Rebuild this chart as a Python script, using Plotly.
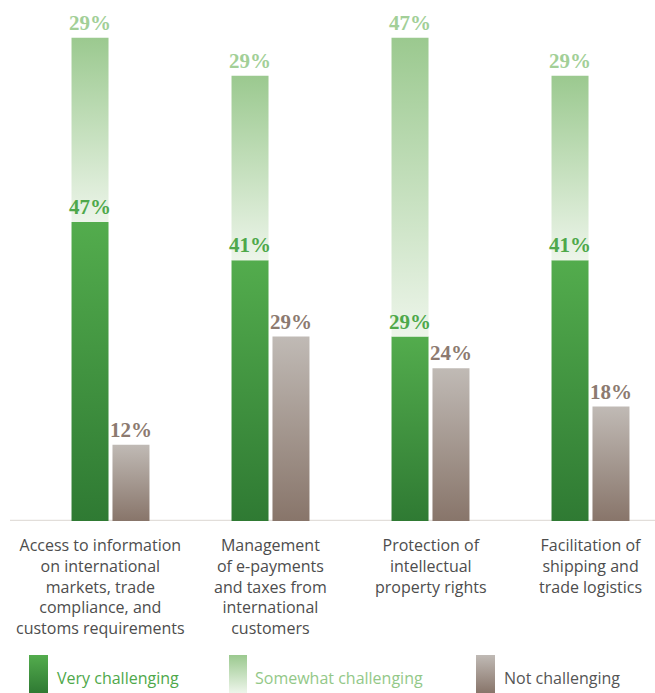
import plotly.graph_objects as go

categories = [
    "Access to information<br>on international<br>markets, trade<br>compliance, and<br>customs requirements",
    "Management<br>of e-payments<br>and taxes from<br>international<br>customers",
    "Protection of<br>intellectual<br>property rights",
    "Facilitation of<br>shipping and<br>trade logistics",
]
very_challenging = [47, 41, 29, 41]
somewhat_challenging = [29, 29, 47, 29]
not_challenging = [12, 29, 24, 18]
series_names = ["Very challenging", "Somewhat challenging", "Not challenging"]

W, H = 655, 693
# gradient colours (bottom, top)
GRAD = {
    "very": ("#2f7a33", "#53ac4d"),
    "some": ("#edf5ea", "#9bc98f"),
    "not": ("#88756a", "#c0bab5"),
}
LABEL_COL = {"very": "#4ea84a", "some": "#a2cf97", "not": "#8c7a70"}

fig = go.Figure()

half_w = 0.1156
off = 0.128


def bar_poly(xc, y0, y1, key, name):
    fig.add_trace(go.Scatter(
        x=[xc - half_w, xc + half_w, xc + half_w, xc - half_w, xc - half_w],
        y=[y0, y0, y1, y1, y0],
        mode="lines", fill="toself", line=dict(width=0),
        fillgradient=dict(type="vertical", start=y0, stop=y1,
                          colorscale=[[0, GRAD[key][0]], [1, GRAD[key][1]]]),
        hoverinfo="skip", showlegend=False, name=name,
    ))


annotations = []
for i in range(len(categories)):
    v, s, n = very_challenging[i], somewhat_challenging[i], not_challenging[i]
    bar_poly(i - off, 0, v, "very", series_names[0])
    bar_poly(i - off, v, v + s, "some", series_names[1])
    bar_poly(i + off, 0, n, "not", series_names[2])
    for xc, yv, txt, key in [(i - off, v, v, "very"), (i - off, v + s, s, "some"), (i + off, n, n, "not")]:
        annotations.append(dict(
            x=xc, y=yv, xref="x", yref="y", text=f"<b>{txt}%</b>", showarrow=False,
            yanchor="bottom", xanchor="center", yshift=1,
            font=dict(family="Liberation Serif", size=21, color=LABEL_COL[key]),
        ))
    annotations.append(dict(
        x=i, y=0, xref="x", yref="y", text=categories[i], showarrow=False,
        yanchor="top", xanchor="center", yshift=-11, xshift=-10 if i == 0 else 0,
        align="center",
        font=dict(family="Open Sans", size=16, color="#4d4d4d"),
    ))

# legend swatches (pixel space on separate full-page axes)
legend_items = [
    (29, 48, "very", series_names[0], LABEL_COL["very"], 55),
    (229, 247, "some", series_names[1], "#93c888", 253),
    (476, 495, "not", series_names[2], "#555555", 502),
]
for x0, x1, key, name, col, tx in legend_items:
    fig.add_trace(go.Scatter(
        x=[x0, x1, x1, x0, x0], y=[H, H, 655, 655, H],
        xaxis="x2", yaxis="y2", mode="lines", fill="toself", line=dict(width=0),
        fillgradient=dict(type="vertical", start=H, stop=655,
                          colorscale=[[0, GRAD[key][0]], [1, GRAD[key][1]]]),
        hoverinfo="skip", showlegend=False,
    ))
    annotations.append(dict(
        x=tx, y=678, xref="x2", yref="y2", text=name, showarrow=False,
        xanchor="left", yanchor="middle",
        font=dict(family="Open Sans", size=16, color=col),
    ))

px_per_unit = 160.0
x0_px = 110.5
ybase_px = 521
pct_px = 6.36

fig.update_layout(
    width=W, height=H,
    margin=dict(l=0, r=0, t=0, b=0),
    paper_bgcolor="white", plot_bgcolor="rgba(0,0,0,0)",
    xaxis=dict(range=[-x0_px / px_per_unit, (W - x0_px) / px_per_unit],
               visible=False, domain=[0, 1], anchor="y"),
    yaxis=dict(range=[0, ybase_px / pct_px], visible=False,
               domain=[(H - ybase_px) / H, 1], anchor="x"),
    xaxis2=dict(range=[0, W], visible=False, domain=[0, 1], anchor="y2"),
    yaxis2=dict(range=[H, 0], visible=False, domain=[0, 1], anchor="x2"),
    annotations=annotations,
    shapes=[dict(type="line", xref="paper", yref="y", x0=10 / W, x1=1, y0=0, y1=0,
                 line=dict(color="#e2deda", width=2.5), layer="below")],
    showlegend=False,
)

fig.write_html("out.html")
